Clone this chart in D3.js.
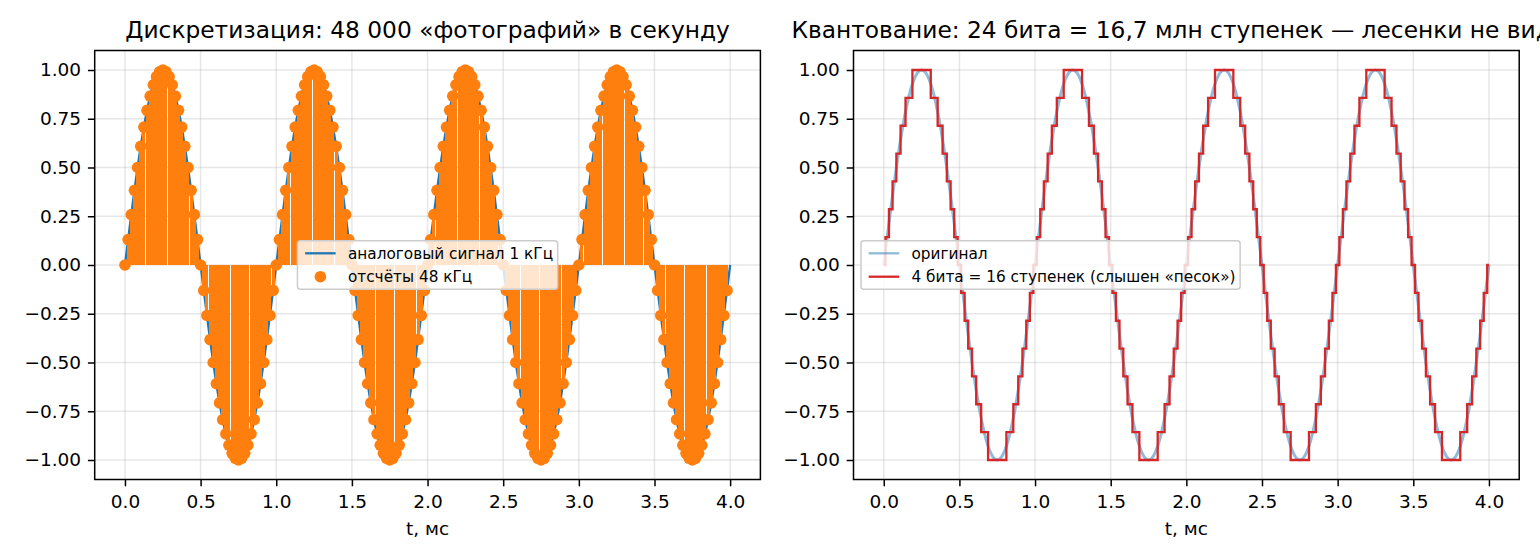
<!DOCTYPE html>
<html>
<head>
<meta charset="utf-8">
<script src="https://cdn.jsdelivr.net/npm/d3@7"></script>
<style>
  body { margin: 0; background: #fff; }
  svg { display: block; font-family: "DejaVu Sans", sans-serif; }
</style>
</head>
<body>
<svg id="chart" width="1540" height="560"></svg>
<script>
// samples per ms (48 kHz) and length of the clip, ms
const sampleRate = 48;
const durationMs = 4;

// 48 kHz samples, one row per millisecond
const sampleValues = [
  0, 0.1305, 0.2588, 0.3827, 0.5, 0.6088, 0.7071, 0.7934, 0.866, 0.9239, 0.9659, 0.9914, 1, 0.9914, 0.9659, 0.9239, 0.866, 0.7934, 0.7071, 0.6088, 0.5, 0.3827, 0.2588, 0.1305, 0, -0.1305, -0.2588, -0.3827, -0.5, -0.6088, -0.7071, -0.7934, -0.866, -0.9239, -0.9659, -0.9914, -1, -0.9914, -0.9659, -0.9239, -0.866, -0.7934, -0.7071, -0.6088, -0.5, -0.3827, -0.2588, -0.1305,
  0, 0.1305, 0.2588, 0.3827, 0.5, 0.6088, 0.7071, 0.7934, 0.866, 0.9239, 0.9659, 0.9914, 1, 0.9914, 0.9659, 0.9239, 0.866, 0.7934, 0.7071, 0.6088, 0.5, 0.3827, 0.2588, 0.1305, 0, -0.1305, -0.2588, -0.3827, -0.5, -0.6088, -0.7071, -0.7934, -0.866, -0.9239, -0.9659, -0.9914, -1, -0.9914, -0.9659, -0.9239, -0.866, -0.7934, -0.7071, -0.6088, -0.5, -0.3827, -0.2588, -0.1305,
  0, 0.1305, 0.2588, 0.3827, 0.5, 0.6088, 0.7071, 0.7934, 0.866, 0.9239, 0.9659, 0.9914, 1, 0.9914, 0.9659, 0.9239, 0.866, 0.7934, 0.7071, 0.6088, 0.5, 0.3827, 0.2588, 0.1305, 0, -0.1305, -0.2588, -0.3827, -0.5, -0.6088, -0.7071, -0.7934, -0.866, -0.9239, -0.9659, -0.9914, -1, -0.9914, -0.9659, -0.9239, -0.866, -0.7934, -0.7071, -0.6088, -0.5, -0.3827, -0.2588, -0.1305,
  0, 0.1305, 0.2588, 0.3827, 0.5, 0.6088, 0.7071, 0.7934, 0.866, 0.9239, 0.9659, 0.9914, 1, 0.9914, 0.9659, 0.9239, 0.866, 0.7934, 0.7071, 0.6088, 0.5, 0.3827, 0.2588, 0.1305, 0, -0.1305, -0.2588, -0.3827, -0.5, -0.6088, -0.7071, -0.7934, -0.866, -0.9239, -0.9659, -0.9914, -1, -0.9914, -0.9659, -0.9239, -0.866, -0.7934, -0.7071, -0.6088, -0.5, -0.3827, -0.2588, -0.1305
];
// analog curve closes at t = 4 ms
const signalEndValue = 0;

// 4-bit staircase: moments (ms) where the level changes, and the level after it
const quantTimes = [
  0,
  0.0114, 0.0344, 0.0581, 0.0833, 0.1111, 0.1438, 0.1894, 0.3106, 0.3562, 0.3889, 0.4167, 0.4419, 0.4656, 0.4886, 0.5114, 0.5344, 0.5581, 0.5833, 0.6111, 0.6438, 0.6894, 0.8106, 0.8562, 0.8889, 0.9167, 0.9419, 0.9656, 0.9886,
  1.0114, 1.0344, 1.0581, 1.0833, 1.1111, 1.1438, 1.1894, 1.3106, 1.3562, 1.3889, 1.4167, 1.4419, 1.4656, 1.4886, 1.5114, 1.5344, 1.5581, 1.5833, 1.6111, 1.6438, 1.6894, 1.8106, 1.8562, 1.8889, 1.9167, 1.9419, 1.9656, 1.9886,
  2.0114, 2.0344, 2.0581, 2.0833, 2.1111, 2.1438, 2.1894, 2.3106, 2.3562, 2.3889, 2.4167, 2.4419, 2.4656, 2.4886, 2.5114, 2.5344, 2.5581, 2.5833, 2.6111, 2.6438, 2.6894, 2.8106, 2.8562, 2.8889, 2.9167, 2.9419, 2.9656, 2.9886,
  3.0114, 3.0344, 3.0581, 3.0833, 3.1111, 3.1438, 3.1894, 3.3106, 3.3562, 3.3889, 3.4167, 3.4419, 3.4656, 3.4886, 3.5114, 3.5344, 3.5581, 3.5833, 3.6111, 3.6438, 3.6894, 3.8106, 3.8562, 3.8889, 3.9167, 3.9419, 3.9656, 3.9886,
  4
];
const quantValues = [
  0,
  0.143, 0.286, 0.429, 0.571, 0.714, 0.857, 1, 0.857, 0.714, 0.571, 0.429, 0.286, 0.143, 0, -0.143, -0.286, -0.429, -0.571, -0.714, -0.857, -1, -0.857, -0.714, -0.571, -0.429, -0.286, -0.143, 0,
  0.143, 0.286, 0.429, 0.571, 0.714, 0.857, 1, 0.857, 0.714, 0.571, 0.429, 0.286, 0.143, 0, -0.143, -0.286, -0.429, -0.571, -0.714, -0.857, -1, -0.857, -0.714, -0.571, -0.429, -0.286, -0.143, 0,
  0.143, 0.286, 0.429, 0.571, 0.714, 0.857, 1, 0.857, 0.714, 0.571, 0.429, 0.286, 0.143, 0, -0.143, -0.286, -0.429, -0.571, -0.714, -0.857, -1, -0.857, -0.714, -0.571, -0.429, -0.286, -0.143, 0,
  0.143, 0.286, 0.429, 0.571, 0.714, 0.857, 1, 0.857, 0.714, 0.571, 0.429, 0.286, 0.143, 0, -0.143, -0.286, -0.429, -0.571, -0.714, -0.857, -1, -0.857, -0.714, -0.571, -0.429, -0.286, -0.143, 0,
  0
];

const xTicks = [0, 0.5, 1, 1.5, 2, 2.5, 3, 3.5, 4];
const yTicks = [-1, -0.75, -0.5, -0.25, 0, 0.25, 0.5, 0.75, 1];

const titles = [
  "Дискретизация: 48 000 «фотографий» в секунду",
  "Квантование: 24 бита = 16,7 млн ступенек — лесенки не видно"
];
const xLabel = "t, мс";
const legendLeft = ["аналоговый сигнал 1 кГц", "отсчёты 48 кГц"];
const legendRight = ["оригинал", "4 бита = 16 ступенек (слышен «песок»)"];

const blue = "#1f77b4", orange = "#ff7f0e", red = "#d62728";
const tickFont = 18.5, titleFont = 23.3, legendFont = 15.3;
const plotTop = 50.5, plotBottom = 479.5;

const samples = sampleValues.map((v, i) => ({ t: i / sampleRate, v }));
const analog = samples.concat([{ t: durationMs, v: signalEndValue }]);
const steps = quantTimes.map((t, i) => ({ t, v: quantValues[i] }));

const svg = d3.select("#chart");

function makePanel(left, right, title) {
  const x = d3.scaleLinear().domain([-0.2, 4.2]).range([left, right]);
  const y = d3.scaleLinear().domain([-1.1, 1.1]).range([plotBottom, plotTop]);
  const g = svg.append("g");

  const grid = g.append("g").attr("stroke", "#b0b0b0").attr("stroke-opacity", 0.3).attr("stroke-width", 1.5);
  grid.selectAll(".gx").data(xTicks).join("line")
    .attr("x1", d => x(d)).attr("x2", d => x(d)).attr("y1", plotTop).attr("y2", plotBottom);
  grid.selectAll(".gy").data(yTicks).join("line")
    .attr("x1", left).attr("x2", right).attr("y1", d => y(d)).attr("y2", d => y(d));

  const plot = g.append("g");
  const over = g.append("g");

  const ax = over.append("g").attr("transform", `translate(0,${plotBottom})`)
    .call(d3.axisBottom(x).tickValues(xTicks).tickFormat(d3.format(".1f")).tickSize(6.8).tickPadding(8.5));
  const ay = over.append("g").attr("transform", `translate(${left},0)`)
    .call(d3.axisLeft(y).tickValues(yTicks).tickFormat(d3.format(".2f")).tickSize(6.8).tickPadding(6.8));
  [ax, ay].forEach(a => {
    a.select(".domain").remove();
    a.attr("font-family", null).attr("font-size", tickFont);
    a.selectAll("line").attr("stroke", "#000").attr("stroke-width", 1.5);
    a.selectAll("text").attr("fill", "#000");
  });

  over.append("rect")
    .attr("x", left).attr("y", plotTop).attr("width", right - left).attr("height", plotBottom - plotTop)
    .attr("fill", "none").attr("stroke", "#000").attr("stroke-width", 1.5);

  over.append("text")
    .attr("x", (left + right) / 2).attr("y", 38)
    .attr("text-anchor", "middle").attr("font-size", titleFont).attr("fill", "#000")
    .text(title);
  over.append("text")
    .attr("x", (left + right) / 2).attr("y", 535)
    .attr("text-anchor", "middle").attr("font-size", tickFont).attr("fill", "#000")
    .text(xLabel);

  return { x, y, g, plot, left, right };
}

function drawLegend(p, boxLeft, items) {
  const lg = p.g.append("g");
  const box = lg.append("rect");
  const fs = legendFont;
  const rows = [253.3, 276.7];
  const texts = items.map((it, i) => lg.append("text")
    .attr("font-size", fs).attr("fill", "#000")
    .attr("y", rows[i]).attr("dy", "0.37em")
    .text(it.label));
  const maxW = d3.max(texts, t => t.node().getComputedTextLength());
  const w = 0.4 * fs + 2 * fs + 0.8 * fs + maxW + 0.4 * fs;
  const h = 48.3;
  const bx = boxLeft === null ? (p.left + p.right) / 2 - w / 2 : boxLeft;
  box.attr("x", bx).attr("y", 265 - h / 2).attr("width", w).attr("height", h)
    .attr("rx", 3).attr("fill", "#fff").attr("fill-opacity", 0.8)
    .attr("stroke", "#cccccc").attr("stroke-width", 1.5);
  const hx = bx + 0.5 * fs;
  texts.forEach(t => t.attr("x", hx + 2.8 * fs));
  items.forEach((it, i) => {
    if (it.marker) {
      lg.append("circle").attr("cx", hx + fs).attr("cy", rows[i]).attr("r", 5.8).attr("fill", it.color);
    } else {
      lg.append("line").attr("x1", hx).attr("x2", hx + 2 * fs).attr("y1", rows[i]).attr("y2", rows[i])
        .attr("stroke", it.color).attr("stroke-width", it.width).attr("stroke-opacity", it.opacity || 1);
    }
  });
}

// left panel: sampling
const pL = makePanel(94.7, 760.4, titles[0]);
pL.plot.append("path")
  .datum(analog)
  .attr("fill", "none").attr("stroke", blue).attr("stroke-width", 2.3)
  .attr("d", d3.line().x(d => pL.x(d.t)).y(d => pL.y(d.v)).curve(d3.curveCatmullRom));
pL.plot.append("g").attr("stroke", orange).attr("stroke-width", 3)
  .attr("shape-rendering", "crispEdges")
  .selectAll("line").data(samples).join("line")
  .attr("x1", d => pL.x(d.t)).attr("x2", d => pL.x(d.t))
  .attr("y1", pL.y(0)).attr("y2", d => pL.y(d.v));
pL.plot.append("g").attr("fill", orange)
  .selectAll("circle").data(samples).join("circle")
  .attr("cx", d => pL.x(d.t)).attr("cy", d => pL.y(d.v)).attr("r", 5.8);
drawLegend(pL, null, [
  { label: legendLeft[0], color: blue, width: 2.3 },
  { label: legendLeft[1], color: orange, marker: true }
]);

// right panel: quantisation
const pR = makePanel(853.5, 1519.2, titles[1]);
pR.plot.append("path")
  .datum(analog)
  .attr("fill", "none").attr("stroke", blue).attr("stroke-opacity", 0.5).attr("stroke-width", 3)
  .attr("d", d3.line().x(d => pR.x(d.t)).y(d => pR.y(d.v)).curve(d3.curveCatmullRom));
pR.plot.append("path")
  .datum(steps)
  .attr("fill", "none").attr("stroke", red).attr("stroke-width", 2.3)
  .attr("d", d3.line().x(d => pR.x(d.t)).y(d => pR.y(d.v)).curve(d3.curveStepAfter));
drawLegend(pR, 853.5 + 7.5, [
  { label: legendRight[0], color: blue, width: 2.3, opacity: 0.5 },
  { label: legendRight[1], color: red, width: 2.3 }
]);
</script>
</body>
</html>
